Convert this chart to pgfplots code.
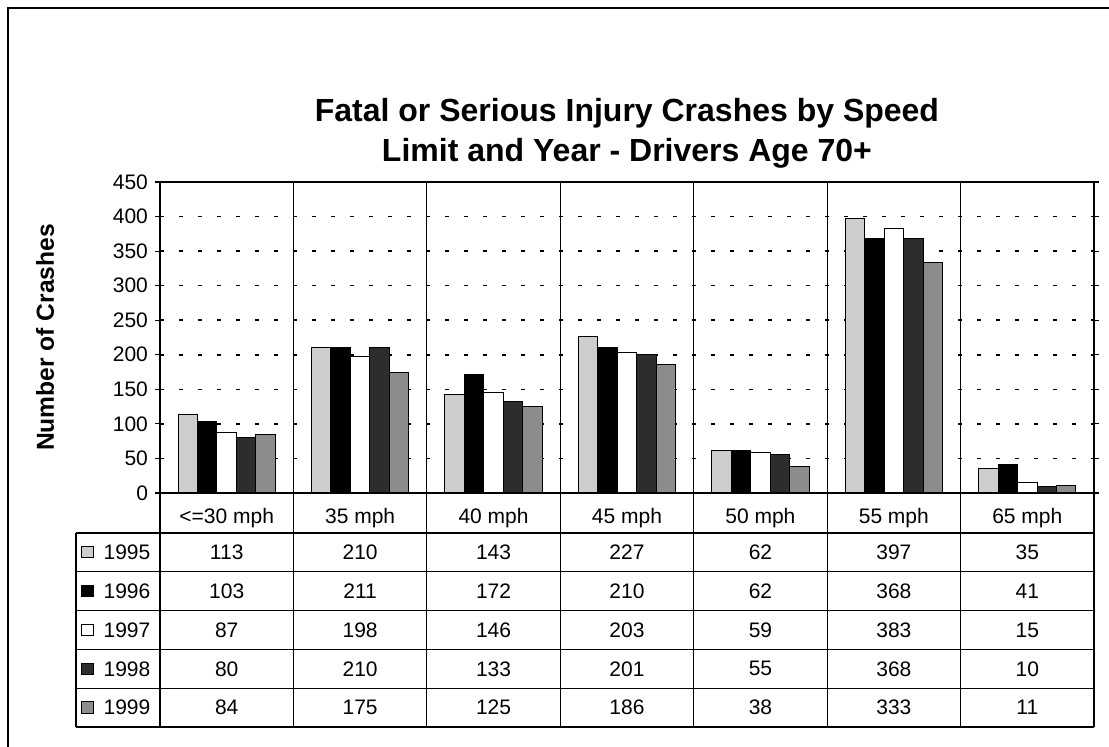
\documentclass[border=0pt]{standalone}
\usepackage{pgfplots}
\pgfplotsset{compat=1.18}
\usepackage{pgfplotstable}
\usepackage{fontspec}
\setmainfont{Liberation Sans}

\definecolor{c95}{RGB}{205,205,205}
\definecolor{c96}{RGB}{0,0,0}
\definecolor{c97}{RGB}{255,255,255}
\definecolor{c98}{RGB}{45,45,45}
\definecolor{c99}{RGB}{140,140,140}

% crashes by speed limit (rows) and year (columns)
\pgfplotstableread{
x y95 y96 y97 y98 y99
0 113 103 87 80 84
1 210 211 198 210 175
2 143 172 146 133 125
3 227 210 203 201 186
4 62 62 59 55 38
5 397 368 383 368 333
6 35 41 15 10 11
}\crashdata

\begin{document}
\begin{tikzpicture}[font=\fontsize{10.5}{12}\selectfont]
\useasboundingbox (-80pt,-127pt) rectangle (474.5pt,246.5pt);
\draw[line width=0.6pt] (-76pt,-127pt) -- (-76pt,242.5pt) -- (474.5pt,242.5pt);

\begin{axis}[
    at={(0,0)}, anchor=south west,
    scale only axis, width=467pt, height=155.5pt,
    xmin=-0.5, xmax=6.5, ymin=0, ymax=450,
    ytick={0,50,...,450},
    xtick={0,...,6},
    xticklabels={{<=30 mph},{35 mph},{40 mph},{45 mph},{50 mph},{55 mph},{65 mph}},
    xticklabel style={anchor=center, yshift=-10pt},
    major x tick style={draw=none},
    ytick style={black, line width=0.6pt},
    tick align=outside, major tick length=2.5pt,
    ybar=0pt, bar width=0.146,
    ymajorgrids,
    grid style={black, line width=0.8pt, dash pattern=on 2pt off 7.5pt},
    axis line style={line width=0.6pt},
    /pgf/number format/assume math mode=true,
    ylabel={Number of Crashes},
    ylabel style={font=\bfseries\fontsize{12.3}{14}\selectfont, at={(axis description cs:-0.123,0.5)}, anchor=center, rotate=0},
    title={Fatal or Serious Injury Crashes by Speed\\Limit and Year - Drivers Age 70+},
    title style={font=\bfseries\fontsize{16}{20}\selectfont, align=center, at={(axis description cs:0.5,1.119)}, anchor=center},
    clip=false,
]
\addplot[draw=black, line width=0.5pt, fill=c95] table[x=x, y=y95] {\crashdata};
\addplot[draw=black, line width=0.5pt, fill=c96] table[x=x, y=y96] {\crashdata};
\addplot[draw=black, line width=0.5pt, fill=c97] table[x=x, y=y97] {\crashdata};
\addplot[draw=black, line width=0.5pt, fill=c98] table[x=x, y=y98] {\crashdata};
\addplot[draw=black, line width=0.5pt, fill=c99] table[x=x, y=y99] {\crashdata};
\end{axis}

% data table under the plot
\begin{scope}[line width=0.6pt]
\foreach \i in {0,...,7}
    \draw ({\i*66.714pt},155.5pt) -- ({\i*66.714pt},-117pt);
\draw (-42pt,-20pt) -- (-42pt,-117pt);
\foreach \k in {1,...,5}
    \draw (-42pt,{-(20+\k*19.4)*1pt}) -- (467pt,{-(20+\k*19.4)*1pt});
\draw (-42pt,-20pt) -- (467pt,-20pt);
\foreach \k/\yr/\col/\cn in {1/1995/c95/y95,2/1996/c96/y96,3/1997/c97/y97,4/1998/c98/y98,5/1999/c99/y99}{
    \draw[line width=0.5pt, fill=\col] (-39pt,{-(20+(\k-0.5)*19.4)*1pt-2.8pt}) rectangle ++(5.6pt,5.6pt);
    \node[anchor=west, inner sep=0pt] at (-28.5pt,{-(20+(\k-0.5)*19.4)*1pt}) {\yr};
    \foreach \r in {0,...,6}{
        \pgfplotstablegetelem{\r}{\cn}\of\crashdata
        \node at ({(\r+0.5)*66.714pt},{-(20+(\k-0.5)*19.4)*1pt}) {\pgfplotsretval};
    }
}
\end{scope}
\end{tikzpicture}
\end{document}
